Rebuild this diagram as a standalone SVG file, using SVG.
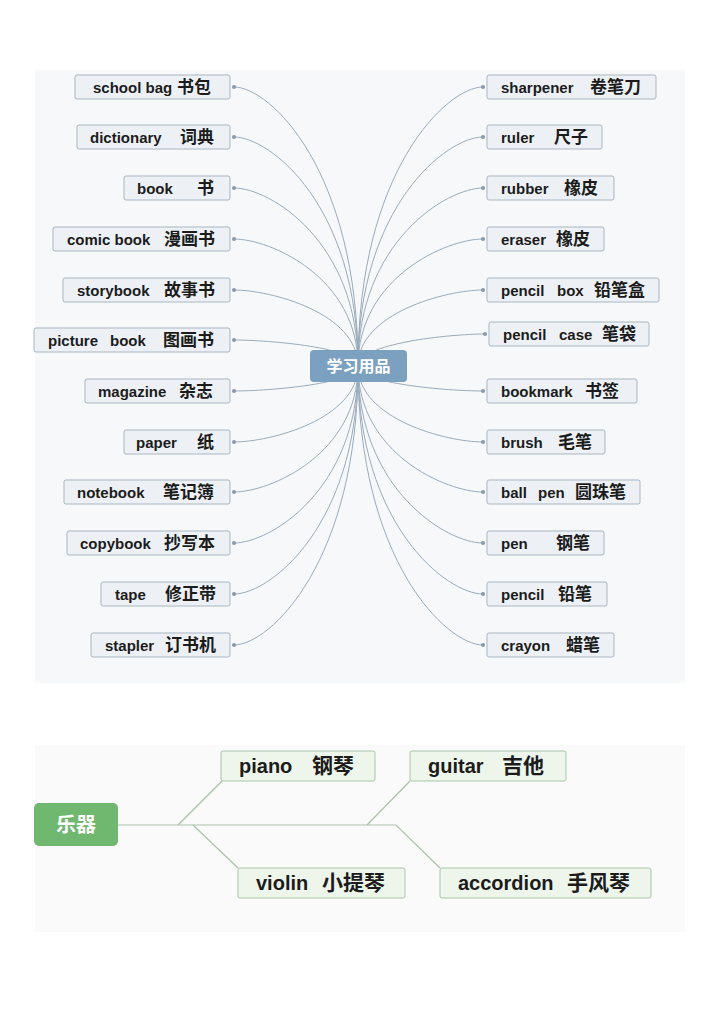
<svg xmlns="http://www.w3.org/2000/svg" width="720" height="1018" viewBox="0 0 720 1018">
<style>
.bg{fill:#f7f8f9}
.n rect{fill:#edf1f5;stroke:#a9b5c2;stroke-width:1}
.n text,.g text{font-family:"Liberation Sans","Noto Sans CJK SC",sans-serif;font-weight:bold;fill:#1c1c1c}
.n text{font-size:15px}
.zh{font-size:17px}
.c{fill:none;stroke:#9aabbc;stroke-width:1}
.dot{fill:#8899aa}
.g rect{fill:#eef6ec;stroke:#a9c6a9;stroke-width:1}
.g text{font-size:20px}
.gz{font-size:21px}
.gl{fill:none;stroke:#a9c2a9;stroke-width:1.2}
</style>
<rect width="720" height="1018" fill="#ffffff"/>
<rect class="bg" x="35" y="70" width="650" height="613"/>
<rect x="35" y="745" width="650" height="187" fill="#f9faf9"/>
<g id="connectors">
<path class="c" d="M234,87 C270,87 358,170.7 358,366"/>
<path class="c" d="M234,137 C270,137 358,205.7 358,366"/>
<path class="c" d="M234,188 C270,188 358,241.4 358,366"/>
<path class="c" d="M234,239 C270,239 358,277.1 358,366"/>
<path class="c" d="M234,290 C270,290 358,312.8 358,366"/>
<path class="c" d="M234,340 C270,340 358,347.8 358,366"/>
<path class="c" d="M234,391 C270,391 358,383.5 358,366"/>
<path class="c" d="M234,442 C270,442 358,419.2 358,366"/>
<path class="c" d="M234,492 C270,492 358,454.2 358,366"/>
<path class="c" d="M234,543 C270,543 358,489.9 358,366"/>
<path class="c" d="M234,594 C270,594 358,525.6 358,366"/>
<path class="c" d="M234,645 C270,645 358,561.3 358,366"/>
<path class="c" d="M483,87 C447,87 358,170.7 358,366"/>
<path class="c" d="M483,137 C447,137 358,205.7 358,366"/>
<path class="c" d="M483,188 C447,188 358,241.4 358,366"/>
<path class="c" d="M483,239 C447,239 358,277.1 358,366"/>
<path class="c" d="M483,290 C447,290 358,312.8 358,366"/>
<path class="c" d="M485,334 C449,334 358,343.6 358,366"/>
<path class="c" d="M483,391 C447,391 358,383.5 358,366"/>
<path class="c" d="M483,442 C447,442 358,419.2 358,366"/>
<path class="c" d="M483,492 C447,492 358,454.2 358,366"/>
<path class="c" d="M483,543 C447,543 358,489.9 358,366"/>
<path class="c" d="M483,594 C447,594 358,525.6 358,366"/>
<path class="c" d="M483,645 C447,645 358,561.3 358,366"/>
<g class="dot">
<circle cx="234" cy="87" r="2"/><circle cx="234" cy="137" r="2"/><circle cx="234" cy="188" r="2"/><circle cx="234" cy="239" r="2"/><circle cx="234" cy="290" r="2"/><circle cx="234" cy="340" r="2"/><circle cx="234" cy="391" r="2"/><circle cx="234" cy="442" r="2"/><circle cx="234" cy="492" r="2"/><circle cx="234" cy="543" r="2"/><circle cx="234" cy="594" r="2"/><circle cx="234" cy="645" r="2"/>
<circle cx="483" cy="87" r="2"/><circle cx="483" cy="137" r="2"/><circle cx="483" cy="188" r="2"/><circle cx="483" cy="239" r="2"/><circle cx="483" cy="290" r="2"/><circle cx="485" cy="334" r="2"/><circle cx="483" cy="391" r="2"/><circle cx="483" cy="442" r="2"/><circle cx="483" cy="492" r="2"/><circle cx="483" cy="543" r="2"/><circle cx="483" cy="594" r="2"/><circle cx="483" cy="645" r="2"/>
</g>
<path class="gl" d="M118,825 H396 L440,868"/>
<path class="gl" d="M178,825 L222,781"/>
<path class="gl" d="M193,825 L238,868"/>
<path class="gl" d="M367,825 L410,781"/>
</g>
<g id="center">
<rect x="310" y="350" width="97" height="32" rx="4" fill="#7ba0c0"/>
<text x="358.5" y="372" text-anchor="middle" font-family="'Noto Sans CJK SC',sans-serif" font-weight="bold" font-size="16" fill="#ffffff">学习用品</text>
</g>
<g id="n-schoolbag" class="n"><rect x="75" y="75" width="155" height="24" rx="2"/><text y="92.5"><tspan x="93">school bag</tspan> <tspan class="zh" x="177">书包</tspan></text></g>
<g id="n-dictionary" class="n"><rect x="77" y="125" width="153" height="24" rx="2"/><text y="142.5"><tspan x="90">dictionary</tspan> <tspan class="zh" x="180">词典</tspan></text></g>
<g id="n-book" class="n"><rect x="124" y="176" width="106" height="24" rx="2"/><text y="193.5"><tspan x="137">book</tspan> <tspan class="zh" x="197">书</tspan></text></g>
<g id="n-comicbook" class="n"><rect x="53" y="227" width="177" height="24" rx="2"/><text y="244.5"><tspan x="67">comic book</tspan> <tspan class="zh" x="164">漫画书</tspan></text></g>
<g id="n-storybook" class="n"><rect x="63" y="278" width="167" height="24" rx="2"/><text y="295.5"><tspan x="77">storybook</tspan> <tspan class="zh" x="164">故事书</tspan></text></g>
<g id="n-picturebook" class="n"><rect x="34" y="328" width="196" height="24" rx="2"/><text y="345.5"><tspan x="48">picture</tspan> <tspan x="110">book</tspan> <tspan class="zh" x="163">图画书</tspan></text></g>
<g id="n-magazine" class="n"><rect x="85" y="379" width="145" height="24" rx="2"/><text y="396.5"><tspan x="98">magazine</tspan> <tspan class="zh" x="179">杂志</tspan></text></g>
<g id="n-paper" class="n"><rect x="124" y="430" width="106" height="24" rx="2"/><text y="447.5"><tspan x="136">paper</tspan> <tspan class="zh" x="197">纸</tspan></text></g>
<g id="n-notebook" class="n"><rect x="64" y="480" width="166" height="24" rx="2"/><text y="497.5"><tspan x="77">notebook</tspan> <tspan class="zh" x="163">笔记簿</tspan></text></g>
<g id="n-copybook" class="n"><rect x="67" y="531" width="163" height="24" rx="2"/><text y="548.5"><tspan x="80">copybook</tspan> <tspan class="zh" x="164">抄写本</tspan></text></g>
<g id="n-tape" class="n"><rect x="101" y="582" width="129" height="24" rx="2"/><text y="599.5"><tspan x="115">tape</tspan> <tspan class="zh" x="165">修正带</tspan></text></g>
<g id="n-stapler" class="n"><rect x="91" y="633" width="139" height="24" rx="2"/><text y="650.5"><tspan x="105">stapler</tspan> <tspan class="zh" x="165">订书机</tspan></text></g>
<g id="n-sharpener" class="n"><rect x="487" y="75" width="169" height="24" rx="2"/><text y="92.5"><tspan x="501">sharpener</tspan> <tspan class="zh" x="590">卷笔刀</tspan></text></g>
<g id="n-ruler" class="n"><rect x="487" y="125" width="115" height="24" rx="2"/><text y="142.5"><tspan x="501">ruler</tspan> <tspan class="zh" x="554">尺子</tspan></text></g>
<g id="n-rubber" class="n"><rect x="487" y="176" width="127" height="24" rx="2"/><text y="193.5"><tspan x="501">rubber</tspan> <tspan class="zh" x="564">橡皮</tspan></text></g>
<g id="n-eraser" class="n"><rect x="487" y="227" width="117" height="24" rx="2"/><text y="244.5"><tspan x="501">eraser</tspan> <tspan class="zh" x="556">橡皮</tspan></text></g>
<g id="n-pencilbox" class="n"><rect x="487" y="278" width="172" height="24" rx="2"/><text y="295.5"><tspan x="501">pencil</tspan> <tspan x="557">box</tspan> <tspan class="zh" x="594">铅笔盒</tspan></text></g>
<g id="n-pencilcase" class="n"><rect x="489" y="322" width="160" height="24" rx="2"/><text y="339.5"><tspan x="503">pencil</tspan> <tspan x="559">case</tspan> <tspan class="zh" x="602">笔袋</tspan></text></g>
<g id="n-bookmark" class="n"><rect x="487" y="379" width="150" height="24" rx="2"/><text y="396.5"><tspan x="501">bookmark</tspan> <tspan class="zh" x="585">书签</tspan></text></g>
<g id="n-brush" class="n"><rect x="487" y="430" width="118" height="24" rx="2"/><text y="447.5"><tspan x="501">brush</tspan> <tspan class="zh" x="558">毛笔</tspan></text></g>
<g id="n-ballpen" class="n"><rect x="487" y="480" width="153" height="24" rx="2"/><text y="497.5"><tspan x="501">ball</tspan> <tspan x="538">pen</tspan> <tspan class="zh" x="575">圆珠笔</tspan></text></g>
<g id="n-pen" class="n"><rect x="487" y="531" width="117" height="24" rx="2"/><text y="548.5"><tspan x="501">pen</tspan> <tspan class="zh" x="556">钢笔</tspan></text></g>
<g id="n-pencil" class="n"><rect x="487" y="582" width="120" height="24" rx="2"/><text y="599.5"><tspan x="501">pencil</tspan> <tspan class="zh" x="558">铅笔</tspan></text></g>
<g id="n-crayon" class="n"><rect x="487" y="633" width="127" height="24" rx="2"/><text y="650.5"><tspan x="501">crayon</tspan> <tspan class="zh" x="566">蜡笔</tspan></text></g>
<g id="music">
<rect x="34" y="803" width="84" height="43" rx="5" fill="#70b870"/>
<text x="76" y="832" text-anchor="middle" font-family="'Noto Sans CJK SC',sans-serif" font-weight="bold" font-size="20" fill="#ffffff">乐器</text>
</g>
<g id="g-piano" class="g"><rect x="221" y="751" width="154" height="30" rx="2"/><text y="773"><tspan x="239">piano</tspan> <tspan class="gz" x="312">钢琴</tspan></text></g>
<g id="g-guitar" class="g"><rect x="410" y="751" width="156" height="30" rx="2"/><text y="773"><tspan x="428">guitar</tspan> <tspan class="gz" x="502">吉他</tspan></text></g>
<g id="g-violin" class="g"><rect x="238" y="868" width="167" height="30" rx="2"/><text y="890"><tspan x="256">violin</tspan> <tspan class="gz" x="322">小提琴</tspan></text></g>
<g id="g-accordion" class="g"><rect x="440" y="868" width="211" height="30" rx="2"/><text y="890"><tspan x="458">accordion</tspan> <tspan class="gz" x="567">手风琴</tspan></text></g>
</svg>
